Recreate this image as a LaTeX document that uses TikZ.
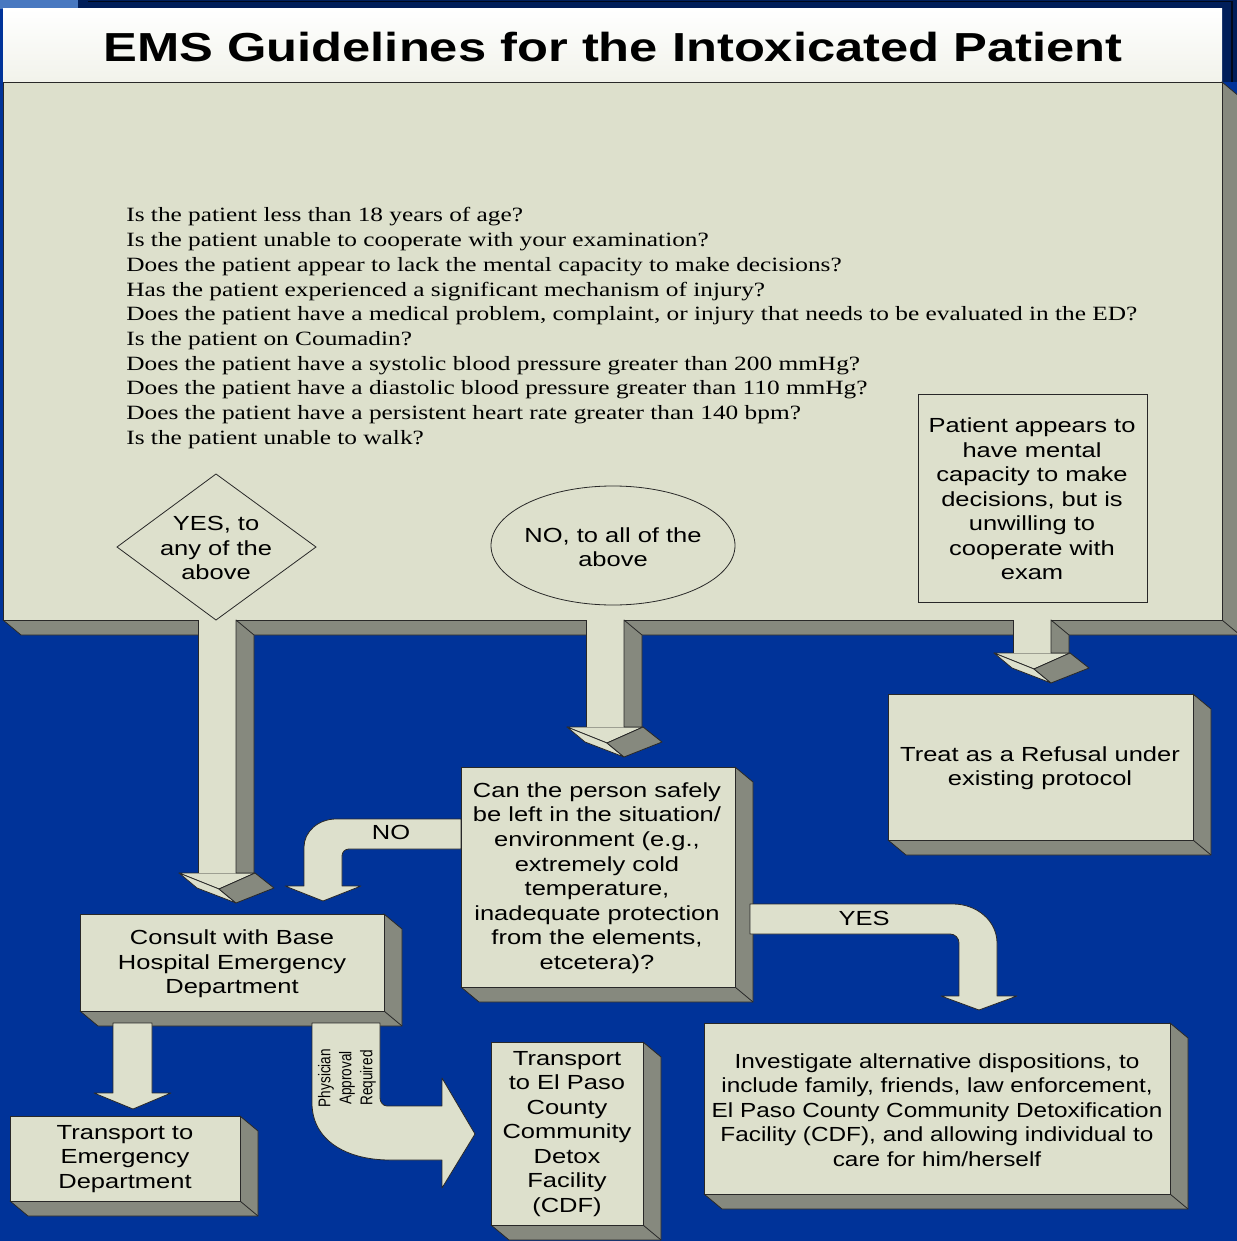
\documentclass[tikz,border=0pt]{standalone}
\usepackage{fontspec}
\setmainfont{Liberation Sans}
\newfontfamily\qfont{Liberation Serif}
\usepackage{tikz}

\definecolor{slideblue}{RGB}{0,51,153}
\definecolor{slidenavy}{RGB}{0,30,90}
\definecolor{slidesky}{RGB}{72,120,192}
\definecolor{boxface}{RGB}{221,224,204}
\definecolor{boxside}{RGB}{134,137,126}
\definecolor{lineclr}{RGB}{40,40,40}

\tikzset{
  face/.style={fill=boxface, draw=lineclr, line width=0.6pt, line join=round},
  side/.style={fill=boxside, draw=lineclr, line width=0.6pt, line join=round},
  boxtext/.style={xscale=1.25, align=center, inner sep=0pt, font=\fontsize{15.3}{18.4}\selectfont},
  qline/.style={xscale=1.25, anchor=base west, inner sep=0pt, font=\qfont\fontsize{15.2}{18.5}\selectfont},
}

% 3D box: x1 y1 x2 y2 of the front face
\newcommand{\slab}[4]{%
  \draw[side] (#3,#2) -- (#3+18,#2+15) -- (#3+18,#4+15) -- (#1+18,#4+15) -- (#1,#4) -- cycle;
  \draw[lineclr, line width=0.6pt] (#3,#4) -- (#3+18,#4+15);
  \draw[face] (#1,#2) rectangle (#3,#4);}

% 3D down arrow: left x of shaft, top y, y where the head starts
\newcommand{\dropshaft}[3]{%
  \draw[face] (#1-19,#3) -- (#1+57,#3) -- (#1+21,#3+16) -- cycle;
  \draw[face] (#1-19,#3) -- (#1+21,#3+16) -- (#1+38,#3+30) -- (#1-1,#3+15) -- cycle;
  \draw[side] (#1+21,#3+16) -- (#1+57,#3) -- (#1+76,#3+15) -- (#1+38,#3+30) -- cycle;
  \fill[boxface] (#1,#2) rectangle (#1+38,#3);
  \draw[side] (#1+38,#2) -- (#1+56,#2+15) -- (#1+56,#3) -- (#1+38,#3) -- cycle;
  \draw[lineclr, line width=0.6pt] (#1,#2) -- (#1,#3);}

\begin{document}
\begin{tikzpicture}[x=0.75pt,y=0.75pt,yscale=-1]
\useasboundingbox (0,0) rectangle (1237,1241);
\fill[slideblue] (0,0) rectangle (1237,1241);
% top band
\fill[slidenavy] (0,0) rectangle (1237,82);
\fill[slidesky] (0,0) rectangle (78,9);
\fill[slideblue] (0,9) rectangle (3,82);
\draw[black!70!slidenavy, line width=0.8pt] (88,1.5) -- (1232,1.5) -- (1232,82);

% title
\shade[top color=white, bottom color=boxface!40!white] (3,9) rectangle (1222,82);
\draw[lineclr, line width=0.6pt] (3,82) -- (1222,82);
\node[xscale=1.25, inner sep=0pt, font=\bfseries\fontsize{30.4}{36}\selectfont] (title) at (613,47) {EMS Guidelines for the Intoxicated Patient};

% question panel
\slab{3}{82}{1222}{620}

% 3D arrows out of the panel
\dropshaft{198}{620}{873}
\dropshaft{586}{620}{727}
\dropshaft{1013}{620}{653}

% questions
\foreach \q [count=\i] in {
  {Is the patient less than 18 years of age?},
  {Is the patient unable to cooperate with your examination?},
  {Does the patient appear to lack the mental capacity to make decisions?},
  {Has the patient experienced a significant mechanism of injury?},
  {Does the patient have a medical problem, complaint, or injury that needs to be evaluated in the ED?},
  {Is the patient on Coumadin?},
  {Does the patient have a systolic blood pressure greater than 200 mmHg?},
  {Does the patient have a diastolic blood pressure greater than 110 mmHg?},
  {Does the patient have a persistent heart rate greater than 140 bpm?},
  {Is the patient unable to walk?}}
  \node[qline] (q\i) at (126,{222+24.67*(\i-1)}) {\q};

% answers inside the panel
\draw[lineclr, line width=0.6pt] (216,474) -- (316,547) -- (216,620) -- (117,547) -- cycle;
\node[boxtext] (yesany) at (216,548) {YES, to\\any of the\\above};
\draw[lineclr, line width=0.6pt] (613,545.5) ellipse [x radius=122, y radius=59.5];
\node[boxtext] (noall) at (613,547) {NO, to all of the\\above};
\draw[lineclr, line width=0.6pt] (918,394) rectangle (1147,602);
\node[boxtext] (unwilling) at (1032,499) {Patient appears to\\have mental\\capacity to make\\decisions, but is\\unwilling to\\cooperate with\\exam};

% refusal
\slab{888}{694}{1193}{840}
\node[boxtext] (refusal) at (1040,768) {Treat as a Refusal under\\existing protocol};

% NO arrow
\draw[face] (461,819) -- (336,819) .. controls (318,819) and (304,832) .. (304,847) -- (304,886) -- (285,886) -- (323,901) -- (361,886) -- (342,886) -- (342,856) .. controls (342,852) and (345,849) .. (349,849) -- (461,849) -- cycle;
\node[boxtext] (nolbl) at (391,832) {NO};

% safe to leave?
\slab{461}{767}{735}{987}
\node[boxtext] (safe) at (597,878) {Can the person safely\\be left in the situation/\\environment (e.g.,\\extremely cold\\temperature,\\inadequate protection\\from the elements,\\etcetera)?};

% YES arrow
\draw[face] (750,904) -- (953,904) .. controls (977,904) and (997,921) .. (997,943) -- (997,996) -- (1017,996) -- (979,1010) -- (941,996) -- (959,996) -- (959,943) .. controls (959,938) and (955,934) .. (950,934) -- (750,934) -- cycle;
\node[boxtext] (yeslbl) at (864,918) {YES};

% consult
\slab{80}{914}{384}{1011}
\node[boxtext] (consult) at (232,964) {Consult with Base\\Hospital Emergency\\Department};

% down to ED
\draw[face] (113,1023) -- (152,1023) -- (152,1093) -- (171,1093) -- (133,1109) -- (94,1093) -- (113,1093) -- cycle;

% physician approval arrow
\draw[face] (312,1023) -- (380,1023) -- (380,1098) .. controls (380,1102) and (383,1106) .. (387,1106) -- (442,1106) -- (442,1078) -- (475,1134) -- (442,1188) -- (442,1160) -- (390,1160) .. controls (346,1160) and (312,1140) .. (312,1103) -- cycle;
\node[xscale=1.25, rotate=90, align=center, inner sep=0pt, font=\fontsize{10.2}{12.6}\selectfont] (approval) at (347,1078) {Physician\\Approval\\Required};

% bottom row
\slab{10}{1116}{240}{1201}
\node[boxtext] (edtrans) at (125,1159) {Transport to\\Emergency\\Department};
\slab{491}{1042}{643}{1225}
\node[boxtext] (cdf) at (567,1134) {Transport\\to El Paso\\County\\Community\\Detox\\Facility\\(CDF)};
\slab{704}{1023}{1170}{1194}
\node[boxtext, xscale=0.955] (investigate) at (937,1110) {Investigate alternative dispositions, to\\include family, friends, law enforcement,\\El Paso County Community Detoxification\\Facility (CDF), and allowing individual to\\care for him/herself};
\end{tikzpicture}
\end{document}
